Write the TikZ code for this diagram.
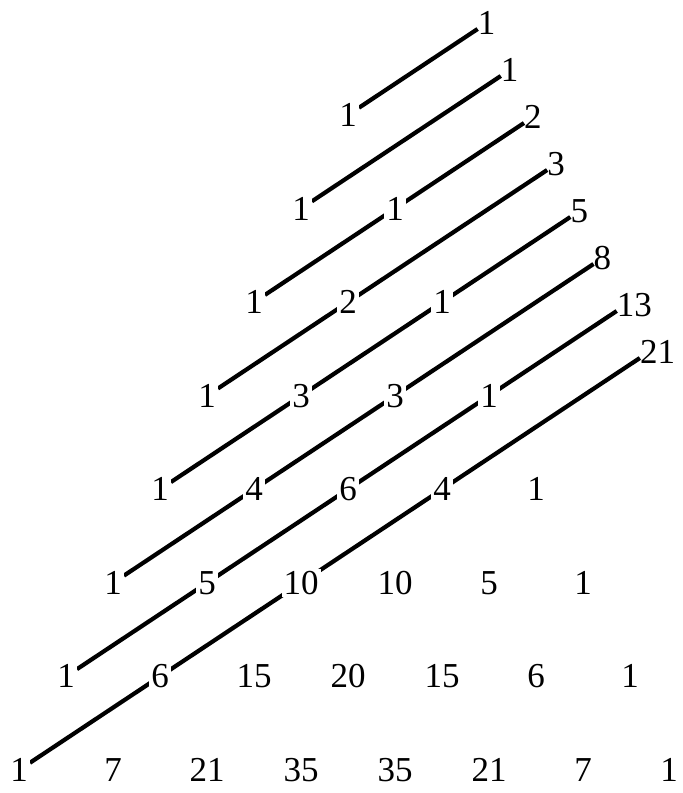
\documentclass[tikz,border=0pt]{standalone}
\usepackage{fontspec}
\setmainfont{Liberation Serif}
\usetikzlibrary{backgrounds}
\begin{document}
\begin{tikzpicture}[x=1pt,y=-1pt,
  num/.style={fill=white, inner sep=2pt, font=\fontsize{35}{40}\selectfont},
  fibnum/.style={inner sep=0pt, anchor=west, yshift=6pt, font=\fontsize{35}{40}\selectfont},
  diagline/.style={line width=4.2pt, line cap=butt}]
\useasboundingbox (0,0) rectangle (683,793);
% Pascal triangle
\foreach \row [count=\n from 0] in {{1},{1,1},{1,2,1},{1,3,3,1},{1,4,6,4,1},{1,5,10,10,5,1},{1,6,15,20,15,6,1},{1,7,21,35,35,21,7,1}} {
  \foreach \v [count=\k from 0] in \row {
    \node[num] (p\n-\k) at ({min(348+94*(\k-\n/2),669)},{115+93.57*\n}) {\v};
  }
}
% Fibonacci sums
\foreach \fv [count=\d from 0] in {1,1,2,3,5,8,13,21} {
  \coordinate (e\d) at ({477.6+23.18*\d},{29+47*\d});
  \node[fibnum] (f\d) at (e\d) {\fv};
}
% diagonals
\begin{pgfonlayer}{background}
\foreach \d in {0,...,7} {
  \draw[diagline] (p\d-0) -- (e\d);
}
\end{pgfonlayer}
\end{tikzpicture}
\end{document}
